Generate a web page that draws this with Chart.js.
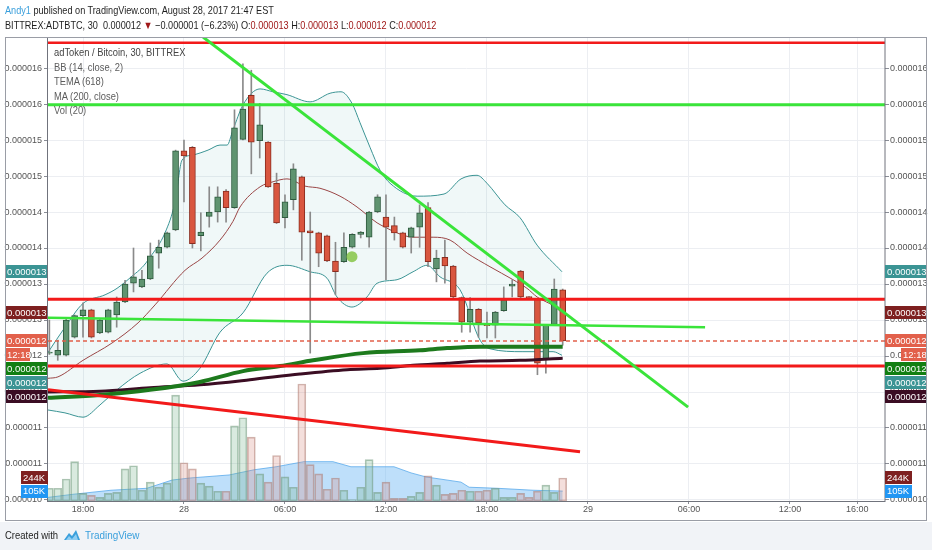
<!DOCTYPE html>
<html>
<head>
<meta charset="utf-8">
<title>ADTBTC 30</title>
<script src="https://cdn.jsdelivr.net/npm/chart.js@4.4.1/dist/chart.umd.min.js"></script>
<style>
  html, body { margin:0; padding:0; background:#ffffff; }
  body { width:932px; height:550px; position:relative; overflow:hidden; font-family:"Liberation Sans", Arial, sans-serif; }
  #chart { position:absolute; left:0; top:0; }
  .txt { position:absolute; white-space:nowrap; transform-origin:0 50%; }
  #h1 { left:5px; top:3px; font-size:11px; line-height:14px; color:#1e1e1e; transform:scaleX(0.83); }
  #h2 { left:5px; top:18px; font-size:11px; line-height:14px; color:#1e1e1e; transform:scaleX(0.83); }
  .blue { color:#3a9fdc; }
  .dred { color:#a01818; }
  #legend { left:54px; top:45px; font-size:11px; line-height:14.5px; color:#5c5c5c; transform:scaleX(0.85); }
  #legend div:first-child { color:#444; }
  #frame { position:absolute; left:5px; top:37px; width:922px; height:484px; border:1px solid #9a9da6; box-sizing:border-box; pointer-events:none; }
  #footer { position:absolute; left:0; top:522px; width:932px; height:28px; background:#f1f3f7; }
  #created { left:5px; top:528px; font-size:11px; line-height:14px; color:#1e1e1e; transform:scaleX(0.86); }
  #tv { left:85px; top:528px; font-size:11px; line-height:14px; color:#3a9fdc; transform:scaleX(0.9); }
  #logo { position:absolute; left:63px; top:528px; }
</style>
</head>
<body>
<canvas id="chart" width="932" height="521"></canvas>
<div id="frame"></div>
<div id="footer"></div>
<div class="txt" id="h1"><span class="blue">Andy1</span> published on TradingView.com, August 28, 2017 21:47 EST</div>
<div class="txt" id="h2">BITTREX:ADTBTC, 30&nbsp; 0.000012 <span class="dred">▼</span> −0.000001 (−6.23%) O:<span class="dred">0.000013</span> H:<span class="dred">0.000013</span> L:<span class="dred">0.000012</span> C:<span class="dred">0.000012</span></div>
<div class="txt" id="legend">
  <div>adToken / Bitcoin, 30, BITTREX</div>
  <div>BB (14, close, 2)</div>
  <div>TEMA (618)</div>
  <div>MA (200, close)</div>
  <div>Vol (20)</div>
</div>
<div class="txt" id="created">Created with</div>
<svg id="logo" width="18" height="14" viewBox="0 0 18 14"><path d="M1 12 L6 5 L9 8 L13 2 L17 12 Z" fill="#3a9fdc"/><path d="M3 12 L6 8 L9 11 L13 6 L15 12 Z" fill="#8fcdf2"/></svg>
<div class="txt" id="tv">TradingView</div>
<script>
// ---- candle times (hours from Aug 27 00:00; 24 = Aug 28 00:00), 30-minute bars ----
const times = [16,16.5,17,17.5,18,18.5,19,19.5,20,20.5,21,21.5,22,22.5,23,23.5,24,24.5,25,25.5,
  26,26.5,27,27.5,28,28.5,29,29.5,30,30.5,31,31.5,32,32.5,33,33.5,34,34.5,35,35.5,
  36,36.5,37,37.5,38,38.5,39,39.5,40,40.5,41,41.5,42,42.5,43,43.5,44,44.5,45,45.5,46,46.5];
// ---- prices in satoshi (1e-8 BTC) ----
const open  = [1204,1201,1201,1226,1256,1264,1232,1233,1257,1275,1301,1296,1307,1343,1351,1375,1485,1490,1367,1394,
  1400,1429,1406,1501,1562,1499,1497,1440,1392,1417,1449,1374,1371,1367,1332,1331,1351,1369,1365,1400,
  1393,1381,1371,1365,1379,1406,1321,1337,1325,1281,1247,1265,1244,1243,1263,1297,1318,1282,1279,1196,1244,1292];
const high  = [1250,1222,1251,1257,1274,1265,1251,1265,1282,1305,1350,1319,1357,1361,1372,1486,1500,1491,1399,1435,
  1435,1431,1542,1606,1597,1551,1498,1454,1424,1467,1450,1400,1372,1368,1358,1371,1370,1373,1401,1424,
  1424,1393,1372,1379,1410,1413,1347,1361,1326,1282,1281,1266,1261,1262,1296,1306,1319,1283,1280,1244,1307,1293];
const low   = [1202,1194,1200,1225,1226,1225,1231,1232,1240,1274,1289,1295,1306,1322,1350,1374,1414,1350,1346,1379,
  1386,1386,1405,1500,1453,1475,1434,1384,1378,1403,1333,1204,1324,1331,1285,1330,1350,1364,1351,1399,
  1306,1361,1350,1343,1351,1324,1303,1301,1281,1233,1233,1226,1225,1225,1262,1282,1281,1280,1174,1176,1243,1215];
const close = [1204,1208,1250,1256,1264,1226,1250,1264,1275,1300,1310,1307,1339,1351,1371,1485,1478,1356,1372,1400,
  1421,1406,1517,1543,1497,1521,1435,1385,1414,1460,1372,1371,1343,1332,1317,1351,1369,1372,1400,1421,
  1379,1371,1351,1378,1399,1331,1336,1325,1282,1247,1265,1246,1242,1261,1278,1300,1282,1281,1190,1243,1293,1221];
// ---- volume (thousands) ----
const volume = [135,135,233,417,81,60,38,81,92,341,374,114,200,146,190,1122,406,341,190,157,
  103,103,797,883,677,287,200,482,255,146,1241,385,287,125,244,114,16,146,439,92,
  200,27,27,49,92,266,168,70,81,114,103,103,114,135,38,38,81,38,103,168,92,244];
// ---- indicators: [hour, value] ----
const bbUpper = [[15.92,1205],[16.93,1240],[18.0,1273],[19.31,1285],[20.02,1294],[20.97,1312],[21.51,1323],[21.98,1337],[22.87,1371],[23.47,1414],[23.88,1472],[24.48,1479],[25.43,1486],[26.14,1493],[26.56,1493],[26.91,1514],[27.51,1549],[28.52,1571],[29.29,1567],[30.12,1563],[31.49,1553],[32.68,1565],[33.33,1567],[33.98,1551],[34.46,1524],[35.05,1490],[35.65,1458],[36.24,1440],[37.85,1422],[39.45,1425],[40.46,1446],[41.41,1451],[42.0,1440],[43.07,1410],[43.97,1392],[44.98,1354],[46.46,1317]];
const bbBasis = [[15.92,1169],[16.51,1171],[18.0,1194],[19.72,1218],[21.27,1246],[22.28,1271],[24.06,1319],[25.07,1336],[26.14,1361],[26.91,1387],[27.33,1407],[28.52,1435],[29.29,1442],[30.12,1446],[31.19,1436],[32.08,1433],[33.27,1422],[34.28,1407],[35.47,1385],[35.94,1379],[36.66,1371],[37.61,1365],[38.8,1365],[39.81,1361],[40.82,1343],[42.18,1324],[43.55,1306],[44.38,1294],[44.98,1282],[45.93,1270],[46.46,1260]];
const bbLower = [[15.92,1125],[16.93,1121],[18.0,1115],[19.01,1132],[20.02,1153],[21.39,1176],[22.99,1189],[23.94,1165],[24.95,1183],[26.14,1233],[27.51,1260],[28.93,1315],[30.12,1326],[31.49,1317],[32.5,1308],[33.09,1282],[33.98,1268],[34.87,1282],[35.47,1301],[36.66,1306],[37.61,1317],[38.44,1326],[39.21,1310],[40.4,1292],[41.59,1222],[42.18,1210],[44.14,1206],[45.93,1206],[46.46,1201]];
const tema618 = [[15.92,1142],[19.01,1146],[21.98,1153],[24.95,1164],[27.51,1179],[29.71,1186],[31.67,1194],[34.64,1204],[38.02,1208],[39.63,1211],[41.59,1213],[44.56,1213],[46.5,1213]];
const ma200 = [[15.92,1150],[19.01,1151],[21.98,1156],[24.95,1160],[27.92,1167],[30.89,1175],[33.69,1181],[35.65,1183],[37.61,1187],[39.63,1190],[41.59,1193],[43.97,1194],[46.5,1197]];
const volMa = [[15.92,38],[17.35,70],[19.66,114],[21.8,135],[23.29,222],[24.36,244],[26.68,276],[28.16,331],[29.47,363],[31.13,417],[32.85,417],[33.92,363],[36.48,363],[37.49,298],[38.38,255],[40.46,200],[40.94,146],[42.6,135],[44.74,114],[46.5,105]];
// ---- drawings on the chart: [hour, value] ----
const redTopLine    = [[15.92,1635],[65.65,1635]];
const greenTopLine  = [[15.92,1549],[65.65,1549]];
const redMidLine    = [[15.92,1279],[65.65,1279]];
const redLowLine    = [[15.92,1186],[65.65,1186]];
const greenFlatLine = [[15.92,1253],[54.96,1240]];
const greenDiagLine = [[25.13,1643],[53.95,1129]];
const redDiagLine   = [[15.92,1153],[47.53,1067]];
const markerDot     = [[33.98,1338]];
// ---- axis ticks ----
const xTickValues = [18,24,30,36,42,48,54,60,64];
const xTickLabels = ["18:00","28","06:00","12:00","18:00","29","06:00","12:00","16:00"];
const yTickValues = [1000,1050,1100,1150,1200,1250,1300,1350,1400,1450,1500,1550,1600];
const yTickLabels = ["0.000010","0.000011","0.000011","0.000012","0.000012","0.000013","0.000013","0.000014","0.000014","0.000015","0.000015","0.000016","0.000016"];
const countdown = "12:18";

const X_MIN = 15.92, X_MAX = 65.65, Y_MIN = 998.6, Y_MAX = 1643.1, VOL_MAX = 4920;

const C = {
  upFill:'#5f9470', upBorder:'#2f5b3f', dnFill:'#d9563f', dnBorder:'#8a2c1f', wick:'#8a8a8a',
  bb:'#3b9494', bbFill:'rgba(38,150,150,0.07)', basis:'#9a4646', basisTag:'#7e2020',
  tema:'#1d7a1d', temaTag:'#127f12', ma:'#3b0d23', price:'#e2604b',
  red:'#f21a1a', green:'#3ae43a', volTagRed:'#7e2020', volTagBlue:'#2196f3',
  grid:'#eceef2', axisText:'#555', frame:'#70737c'
};
const TICK_FONT = { family:'"Liberation Sans", Arial, sans-serif', size:9 };
const pts = a => a.map(([x,y]) => ({x, y}));
const isUp = close.map((c,i) => c >= open[i]);

const lineDs = (data, color, width, order, extra={}) => Object.assign({
  type:'line', data: pts(data), borderColor:color, borderWidth:width, pointRadius:0,
  fill:false, tension:0, yAxisID:'y', order
}, extra);

const datasets = [
  // volume MA area
  { type:'line', data: pts(volMa), yAxisID:'yv', borderColor:'rgba(90,170,235,0.8)', borderWidth:1,
    backgroundColor:'rgba(110,185,245,0.45)', fill:'origin', pointRadius:0, tension:0, order:100 },
  // volume bars
  { type:'bar', data: times.map((t,i)=>({x:t, y:volume[i]})), yAxisID:'yv', grouped:false,
    barThickness:8, borderWidth:1, borderSkipped:false,
    backgroundColor: isUp.map(u => u ? 'rgba(120,180,140,0.28)' : 'rgba(215,140,128,0.28)'),
    borderColor: isUp.map(u => u ? 'rgba(110,150,120,0.55)' : 'rgba(170,120,110,0.55)'), order:95 },
  // Bollinger bands
  lineDs(bbUpper, C.bb, 1, 90, { fill:{ target:'+1' }, backgroundColor:C.bbFill, cubicInterpolationMode:'monotone' }),
  lineDs(bbLower, C.bb, 1, 89, { cubicInterpolationMode:'monotone' }),
  lineDs(bbBasis, C.basis, 1, 88, { cubicInterpolationMode:'monotone' }),
  // candle wicks
  { type:'bar', data: times.map((t,i)=>({x:t, y:[low[i], high[i]]})), yAxisID:'y', grouped:false,
    barThickness:1, backgroundColor:C.wick, borderWidth:0, order:80 },
  // candle bodies
  { type:'bar', data: times.map((t,i)=>({x:t, y:[open[i], close[i]]})), yAxisID:'y', grouped:false,
    barThickness:6, minBarLength:1, borderWidth:1, borderSkipped:false,
    backgroundColor: isUp.map(u => u ? C.upFill : C.dnFill),
    borderColor: isUp.map(u => u ? C.upBorder : C.dnBorder), order:79 },
  // TEMA and MA
  lineDs(tema618, C.tema, 4, 70, { cubicInterpolationMode:'monotone' }),
  lineDs(ma200, C.ma, 3, 71, { cubicInterpolationMode:'monotone' }),
  // drawings
  lineDs(redTopLine, C.red, 2.5, 60),
  lineDs(greenTopLine, C.green, 3, 59),
  lineDs(redMidLine, C.red, 3, 58),
  lineDs(redLowLine, C.red, 3, 57),
  lineDs(greenFlatLine, C.green, 2.5, 56),
  lineDs(greenDiagLine, C.green, 3, 55),
  lineDs(redDiagLine, C.red, 3, 54),
  // last price line
  lineDs([[X_MIN, close[close.length-1]], [X_MAX, close[close.length-1]]], C.price, 1.5, 45, { borderDash:[4,3] }),
  // marker dot
  { type:'line', data: pts(markerDot), yAxisID:'y', showLine:false, pointRadius:5.5,
    pointBackgroundColor:'rgba(140,200,80,0.9)', pointBorderWidth:0, order:40 }
];

const tagPlugin = {
  id:'tags',
  afterDraw(chart) {
    const { ctx, chartArea:a, scales } = chart;
    const ys = scales.y, yv = scales.yv;
    ctx.save();
    ctx.strokeStyle = C.frame; ctx.lineWidth = 1;
    ctx.strokeRect(Math.round(a.left) - 0.5, Math.round(a.top) + 0.5, Math.round(a.right - a.left) + 0.5, Math.round(a.bottom - a.top));
    const last = close.length - 1;
    const items = [
      { v: bbUpper[bbUpper.length-1][1], c: C.bb },
      { v: bbBasis[bbBasis.length-1][1], c: C.basisTag },
      { v: close[last], c: C.price, price:true },
      { v: tema618[tema618.length-1][1], c: C.temaTag },
      { v: bbLower[bbLower.length-1][1], c: C.bb },
      { v: ma200[ma200.length-1][1], c: C.ma }
    ].map(o => Object.assign(o, { y: ys.getPixelForValue(o.v), text: (o.v / 1e8).toFixed(6) }));
    const p = items.find(o => o.price);
    items.push({ y: p.y + 0.1, c: C.price, text: countdown, cd:true });
    items.sort((m, n) => m.y - n.y);
    const H = 13, STEP = 14;
    let prev = -1e9;
    for (const it of items) { if (it.y < prev + STEP) it.y = prev + STEP; prev = it.y; }
    const vItems = [
      { v: volume[last], c: isUp[last] ? C.temaTag : C.volTagRed },
      { v: volMa[volMa.length-1][1], c: C.volTagBlue }
    ].map(o => Object.assign(o, { y: yv.getPixelForValue(o.v), text: Math.round(o.v) + 'K' }));
    vItems.sort((m, n) => m.y - n.y);
    prev = -1e9;
    for (const it of vItems) { if (it.y < prev + H) it.y = prev + H; prev = it.y; }
    ctx.font = '9.5px "Liberation Sans", Arial, sans-serif';
    ctx.textBaseline = 'middle'; ctx.textAlign = 'left';
    const L = Math.round(a.left), R = Math.round(a.right);
    const box = (x, w, y, color, text) => {
      ctx.fillStyle = color; ctx.fillRect(x, Math.round(y - H/2), w, H);
      ctx.fillStyle = '#ffffff'; ctx.fillText(text, x + 2, Math.round(y) + 0.5);
    };
    for (const it of items) {
      if (it.cd) { box(5, 25, it.y, it.c, it.text); box(R + 16, 25, it.y, it.c, it.text); }
      else { box(5, L - 6, it.y, it.c, it.text); box(R, 41, it.y, it.c, it.text); }
    }
    for (const it of vItems) { box(L - 27, 27, it.y, it.c, it.text); box(R, 27, it.y, it.c, it.text); }
    ctx.restore();
  }
};

new Chart(document.getElementById('chart'), {
  type:'line',
  data:{ datasets },
  options:{
    responsive:false, animation:false, events:[],
    layout:{ padding:{ top:37, left:0, right:0, bottom:0 } },
    plugins:{ legend:{ display:false }, tooltip:{ enabled:false } },
    scales:{
      x:{ type:'linear', position:'bottom', min:X_MIN, max:X_MAX, offset:false,
        afterBuildTicks: s => { s.ticks = xTickValues.map(v => ({ value:v })); },
        afterFit: s => { s.height = 20; },
        ticks:{ callback:(v, i) => xTickLabels[i], color:C.axisText, font:TICK_FONT, padding:0, maxRotation:0, autoSkip:false },
        grid:{ offset:false, color:C.grid, tickColor:'#8a8d96', tickLength:3 }, border:{ display:false } },
      y:{ type:'linear', position:'left', min:Y_MIN, max:Y_MAX, beginAtZero:false,
        afterBuildTicks: s => { s.ticks = yTickValues.map(v => ({ value:v })); },
        afterFit: s => { s.width = 48; },
        ticks:{ callback:(v, i) => yTickLabels[i], color:C.axisText, font:TICK_FONT, padding:2, autoSkip:false },
        grid:{ color:C.grid, tickColor:'#8a8d96', tickLength:4 }, border:{ display:false } },
      y2:{ type:'linear', position:'right', min:Y_MIN, max:Y_MAX,
        afterBuildTicks: s => { s.ticks = yTickValues.map(v => ({ value:v })); },
        afterFit: s => { s.width = 47; },
        ticks:{ callback:(v, i) => yTickLabels[i], color:C.axisText, font:TICK_FONT, padding:1, autoSkip:false },
        grid:{ drawOnChartArea:false, tickColor:'#8a8d96', tickLength:4 }, border:{ display:false } },
      yv:{ type:'linear', display:false, min:0, max:VOL_MAX }
    }
  },
  plugins:[tagPlugin]
});
</script>
</body>
</html>
